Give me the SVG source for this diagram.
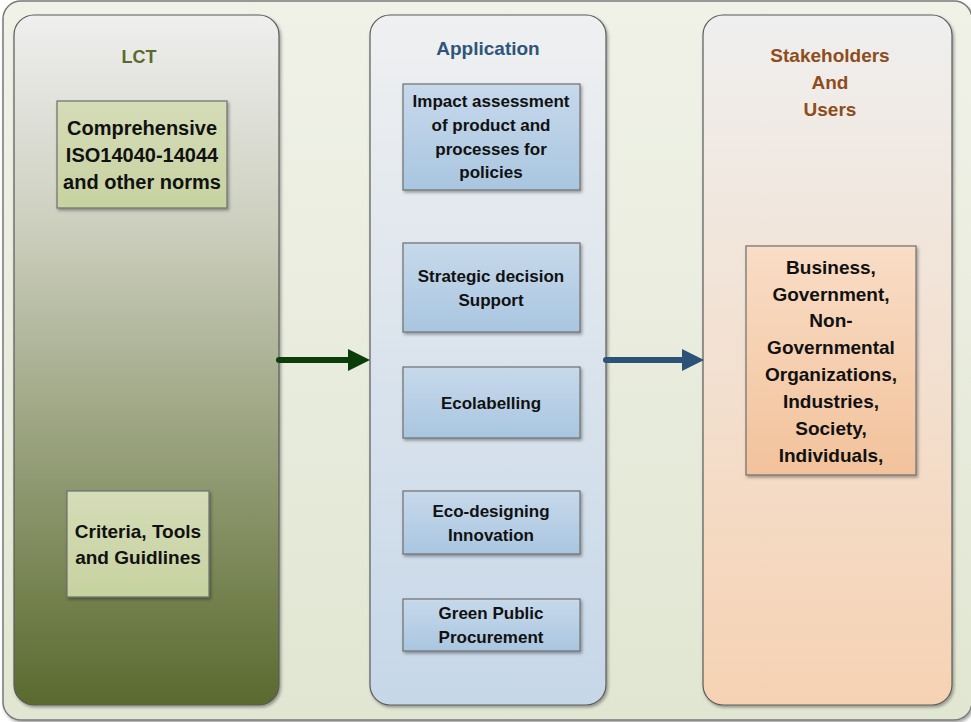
<svg xmlns="http://www.w3.org/2000/svg" width="971" height="722" viewBox="0 0 971 722">
<defs>
<linearGradient id="gOuter" x1="0" y1="0" x2="0" y2="1"><stop offset="0" stop-color="#f0f2e8"/><stop offset="1" stop-color="#e1e6d2"/></linearGradient>
<linearGradient id="gLct" x1="0" y1="0" x2="0" y2="1"><stop offset="0" stop-color="#efefef"/><stop offset="0.3" stop-color="#cdd0bf"/><stop offset="1" stop-color="#5a6a2e"/></linearGradient>
<linearGradient id="gApp" x1="0" y1="0" x2="0" y2="1"><stop offset="0" stop-color="#eff0f1"/><stop offset="1" stop-color="#c6d7e8"/></linearGradient>
<linearGradient id="gStk" x1="0" y1="0" x2="0" y2="1"><stop offset="0" stop-color="#efefef"/><stop offset="1" stop-color="#f6d2b3"/></linearGradient>
<linearGradient id="gGreenBox" x1="0" y1="0" x2="0" y2="1"><stop offset="0" stop-color="#d5dcb8"/><stop offset="1" stop-color="#c7d2a0"/></linearGradient>
<linearGradient id="gBlueBox" x1="0" y1="0" x2="0" y2="1"><stop offset="0" stop-color="#c7d9eb"/><stop offset="1" stop-color="#a9c6e0"/></linearGradient>
<linearGradient id="gOrangeBox" x1="0" y1="0" x2="0" y2="1"><stop offset="0" stop-color="#f9ddc6"/><stop offset="1" stop-color="#f2c29b"/></linearGradient>
<filter id="sh" x="-10%" y="-10%" width="130%" height="130%"><feDropShadow dx="1.5" dy="2" stdDeviation="1.5" flood-color="#000" flood-opacity="0.35"/></filter>
<marker id="headGreen" markerUnits="userSpaceOnUse" markerWidth="24" markerHeight="24" refX="1" refY="12" orient="auto"><path d="M0,1 L22,12 L0,23 Z" fill="#0b3d0b"/></marker>
<marker id="headBlue" markerUnits="userSpaceOnUse" markerWidth="24" markerHeight="24" refX="1" refY="12" orient="auto"><path d="M0,1 L22,12 L0,23 Z" fill="#2d5277"/></marker>
</defs>
<style>
.t{font-family:"Liberation Sans",Arial,sans-serif;font-weight:bold;text-anchor:middle;fill:#111}
.col{stroke:#5a5a5a;stroke-width:1.2}
.box{stroke:#6e6e6e;stroke-width:1.2}
</style>
<rect x="3" y="1" width="969" height="719" rx="18" fill="url(#gOuter)" stroke="#7a7a7a" stroke-width="1.5" filter="url(#sh)"/>

<g id="lct">
<rect class="col" x="14" y="15" width="265" height="690" rx="20" fill="url(#gLct)" filter="url(#sh)"/>
<text class="t" x="139" y="63" font-size="18" style="fill:#5a6a2e">LCT</text>
</g>
<g id="comprehensive">
<rect class="box" x="57" y="101" width="170" height="107" fill="url(#gGreenBox)" filter="url(#sh)"/>
<text class="t" x="142" y="135" font-size="20">Comprehensive</text>
<text class="t" x="142" y="162" font-size="20">ISO14040-14044</text>
<text class="t" x="142" y="189" font-size="20">and other norms</text>
</g>
<g id="criteria">
<rect class="box" x="67" y="491" width="142" height="106" fill="url(#gGreenBox)" filter="url(#sh)"/>
<text class="t" x="138" y="538" font-size="19">Criteria, Tools</text>
<text class="t" x="138" y="564" font-size="19">and Guidlines</text>
</g>

<g id="application">
<rect class="col" x="370" y="15" width="236" height="690" rx="20" fill="url(#gApp)" filter="url(#sh)"/>
<text class="t" x="488" y="55" font-size="19" style="fill:#2f557a">Application</text>
</g>
<g id="impact">
<rect class="box" x="403" y="84" width="177" height="106" fill="url(#gBlueBox)" filter="url(#sh)"/>
<text class="t" x="491" y="107" font-size="17">Impact assessment</text>
<text class="t" x="491" y="131" font-size="17">of product and</text>
<text class="t" x="491" y="155" font-size="17">processes for</text>
<text class="t" x="491" y="178" font-size="17">policies</text>
</g>
<g id="strategic">
<rect class="box" x="403" y="243" width="177" height="89" fill="url(#gBlueBox)" filter="url(#sh)"/>
<text class="t" x="491" y="282" font-size="17">Strategic decision</text>
<text class="t" x="491" y="306" font-size="17">Support</text>
</g>
<g id="ecolabelling">
<rect class="box" x="403" y="367" width="177" height="71" fill="url(#gBlueBox)" filter="url(#sh)"/>
<text class="t" x="491" y="409" font-size="17">Ecolabelling</text>
</g>
<g id="ecodesign">
<rect class="box" x="403" y="491" width="177" height="63" fill="url(#gBlueBox)" filter="url(#sh)"/>
<text class="t" x="491" y="517" font-size="17">Eco-designing</text>
<text class="t" x="491" y="541" font-size="17">Innovation</text>
</g>
<g id="gpp">
<rect class="box" x="403" y="599" width="177" height="52" fill="url(#gBlueBox)" filter="url(#sh)"/>
<text class="t" x="491" y="619" font-size="17">Green Public</text>
<text class="t" x="491" y="643" font-size="17">Procurement</text>
</g>

<g id="stakeholders">
<rect class="col" x="703" y="15" width="249" height="690" rx="20" fill="url(#gStk)" filter="url(#sh)"/>
<text class="t" x="830" y="62" font-size="19" style="fill:#8e4d1c">Stakeholders</text>
<text class="t" x="830" y="89" font-size="19" style="fill:#8e4d1c">And</text>
<text class="t" x="830" y="116" font-size="19" style="fill:#8e4d1c">Users</text>
</g>
<g id="users">
<rect class="box" x="746" y="246" width="170" height="229" fill="url(#gOrangeBox)" filter="url(#sh)"/>
<text class="t" x="831" y="274" font-size="19">Business,</text>
<text class="t" x="831" y="301" font-size="19">Government,</text>
<text class="t" x="831" y="327" font-size="19">Non-</text>
<text class="t" x="831" y="354" font-size="19">Governmental</text>
<text class="t" x="831" y="381" font-size="19">Organizations,</text>
<text class="t" x="831" y="408" font-size="19">Industries,</text>
<text class="t" x="831" y="435" font-size="19">Society,</text>
<text class="t" x="831" y="462" font-size="19">Individuals,</text>
</g>

<g id="connectors">
<line x1="279" y1="360" x2="349" y2="360" stroke="#0b3d0b" stroke-width="6" stroke-linecap="round" marker-end="url(#headGreen)"/>
<line x1="606" y1="360" x2="683" y2="360" stroke="#2d5277" stroke-width="6" stroke-linecap="round" marker-end="url(#headBlue)"/>
</g>
</svg>
